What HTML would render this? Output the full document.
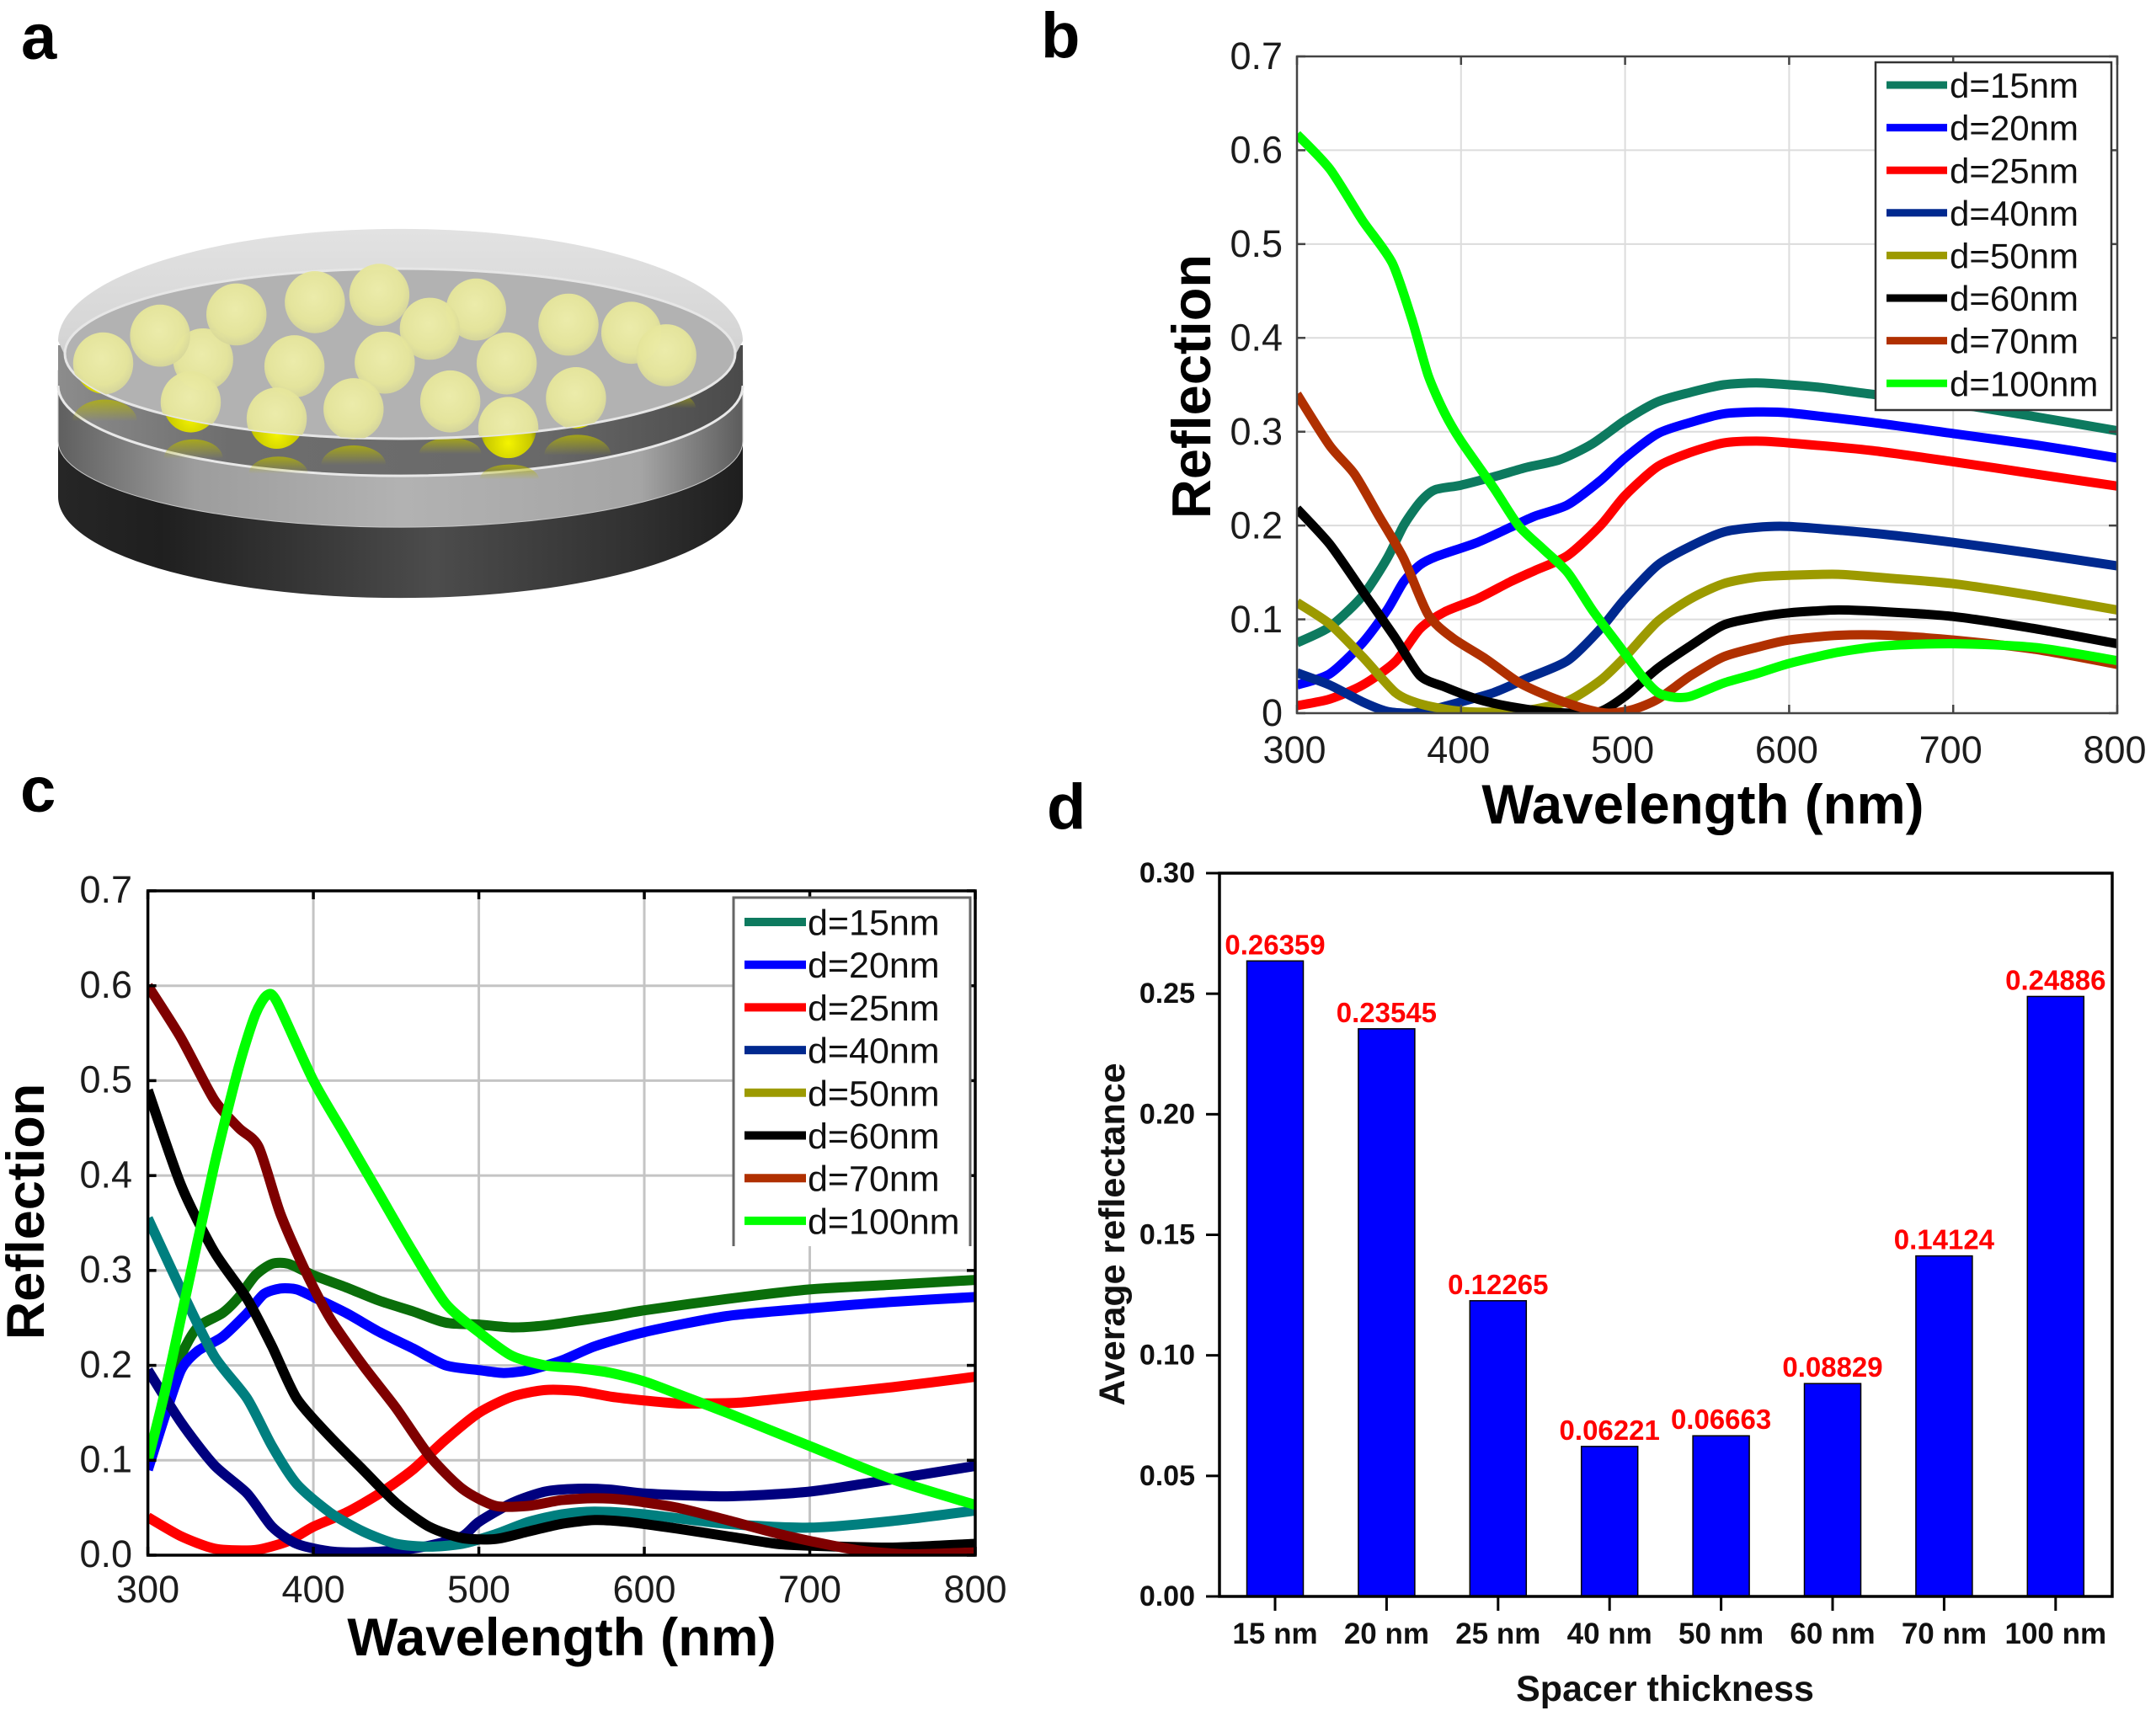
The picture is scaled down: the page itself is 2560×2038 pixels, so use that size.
<!DOCTYPE html>
<html lang="en">
<head>
<meta charset="utf-8">
<title>Reflection spectra figure</title>
<style>
html,body{margin:0;padding:0;background:#fff}
svg{display:block;font-family:"Liberation Sans",sans-serif}
</style>
</head>
<body>
<svg id="fig" xmlns="http://www.w3.org/2000/svg" width="2560" height="2038" viewBox="0 0 2560 2038">
<defs>
<linearGradient id="gDark" x1="0" x2="1" y1="0" y2="0"><stop offset="0" stop-color="#262626"/><stop offset=".15" stop-color="#1f1f1f"/><stop offset=".55" stop-color="#4c4c4c"/><stop offset=".85" stop-color="#303030"/><stop offset="1" stop-color="#1e1e1e"/></linearGradient>
<linearGradient id="gMid" x1="0" x2="1" y1="0" y2="0"><stop offset="0" stop-color="#5f5f5f"/><stop offset=".2" stop-color="#9d9d9d"/><stop offset=".5" stop-color="#b2b2b2"/><stop offset=".85" stop-color="#a5a5a5"/><stop offset="1" stop-color="#5c5c5c"/></linearGradient>
<linearGradient id="gBand" x1="0" x2="1" y1="0" y2="0"><stop offset="0" stop-color="#8c8c8c"/><stop offset=".25" stop-color="#6e6e6e"/><stop offset=".7" stop-color="#696969"/><stop offset="1" stop-color="#4a4a4a"/></linearGradient>
<linearGradient id="gRim" x1="0" x2="0" y1="0" y2="1"><stop offset="0" stop-color="#e2e2e2"/><stop offset=".5" stop-color="#d6d6d6"/><stop offset="1" stop-color="#bcbcbc"/></linearGradient>
<radialGradient id="gBall" cx=".48" cy=".42" r=".6"><stop offset="0" stop-color="#eeeeaa"/><stop offset=".7" stop-color="#e6e69b"/><stop offset="1" stop-color="#d4d49a"/></radialGradient>
<radialGradient id="gGold" cx=".5" cy=".75" r=".55"><stop offset="0" stop-color="#f4f400"/><stop offset=".75" stop-color="#c8c800"/><stop offset="1" stop-color="#8a8a10"/></radialGradient>
<linearGradient id="gCap" x1="0" x2="0" y1="0" y2="1"><stop offset="0" stop-color="#b8b800" stop-opacity=".75"/><stop offset="1" stop-color="#b8b800" stop-opacity="0"/></linearGradient>
<clipPath id="clipB"><rect x="1540" y="67" width="974" height="780"/></clipPath>
<clipPath id="clipC"><rect x="175.6" y="1058" width="982.4" height="789"/></clipPath>
<clipPath id="clipBalls"><path d="M0 0H1568V866H1369A624 208 0 0 1 121 866H0Z"/></clipPath>
</defs>

<g id="panel-a">
<path d="M69 440V590A406 120 0 0 0 882 590V440Z" fill="url(#gDark)"/>
<path d="M69 440V524A406 102 0 0 0 882 524V440Z" fill="url(#gMid)" stroke="#c8c8c8" stroke-width="1"/>
<path d="M69 410V458A406 107 0 0 0 882 458V410Z" fill="url(#gBand)"/>
<path d="M69 458A406 107 0 0 0 882 458" fill="none" stroke="#e8e8e8" stroke-width="3"/>
<g id="ballCaps" transform="scale(.638,.485)"></g>
<g id="ballGold" transform="scale(.638,.485)"></g>
<path d="M69 405A406 133 0 0 1 882 405L874 420A398 101 0 0 1 76 420Z" fill="url(#gRim)"/>
<ellipse cx="475" cy="420" rx="398" ry="101" fill="#b2b2b2" stroke="#e6e6e6" stroke-width="3"/>
<g id="ballTop" transform="scale(.638,.485)"></g>
</g>

<g id="labels" font-weight="bold" font-size="76" fill="#000">
<text x="25" y="70">a</text>
<text x="1236" y="68">b</text>
<text x="24" y="964">c</text>
<text x="1243" y="984">d</text>
</g>
<g id="chartB"></g>
<g id="chartC"></g>
<g id="chartD"></g>
</svg>
<script>
// Chart b series: [wavelength, reflection]
const b15 = [[300,.075],[320,.092],[340,.125],[355,.165],[365,.2],[375,.225],[384,.238],[400,.243],[420,.252],[440,.262],[460,.27],[480,.287],[500,.312],[520,.332],[540,.342],[560,.35],[580,.352],[600,.35],[620,.347],[650,.34],[700,.33],[750,.316],[800,.301]];
const b20 = [[300,.03],[320,.042],[340,.075],[355,.11],[365,.14],[375,.158],[385,.167],[410,.182],[430,.198],[445,.21],[465,.222],[485,.248],[500,.272],[520,.298],[540,.31],[560,.319],[580,.321],[600,.32],[650,.31],[700,.298],[750,.286],[800,.272]];
const b25 = [[300,.008],[320,.015],[340,.03],[360,.055],[375,.09],[390,.108],[410,.122],[430,.14],[445,.152],[465,.168],[485,.2],[500,.232],[520,.263],[540,.278],[560,.288],[580,.29],[600,.288],[650,.28],[700,.268],[750,.255],[800,.242]];
const b40 = [[300,.043],[320,.03],[340,.012],[355,.002],[370,.0],[385,.005],[400,.012],[420,.022],[440,.037],[465,.056],[485,.09],[500,.122],[520,.158],[540,.178],[560,.193],[580,.198],[600,.199],[650,.192],[700,.182],[750,.17],[800,.157]];
const b50 = [[300,.118],[320,.095],[340,.06],[360,.022],[375,.01],[395,.003],[415,.001],[440,.003],[465,.013],[485,.035],[500,.06],[520,.098],[540,.122],[560,.138],[580,.145],[600,.147],[630,.148],[660,.144],[700,.138],[750,.125],[800,.11]];
const b60 = [[300,.218],[320,.18],[340,.13],[360,.08],[375,.04],[390,.028],[410,.015],[430,.007],[450,.002],[470,.0],[485,.002],[500,.018],[520,.048],[540,.072],[560,.094],[580,.102],[600,.107],[630,.11],[660,.108],[700,.103],[750,.09],[800,.074]];
const b70 = [[300,.34],[320,.285],[335,.255],[350,.21],[365,.165],[380,.105],[395,.08],[415,.058],[435,.033],[455,.017],[475,.005],[490,.0],[505,.004],[520,.015],[540,.04],[560,.06],[580,.07],[600,.078],[630,.083],[660,.083],[700,.078],[750,.068],[800,.052]];
const b100 = [[300,.617],[320,.58],[340,.525],[358,.48],[370,.42],[380,.36],[390,.32],[400,.29],[420,.24],[435,.2],[450,.175],[465,.15],[480,.11],[495,.075],[510,.04],[520,.022],[530,.017],[540,.018],[560,.032],[580,.042],[600,.053],[630,.065],[660,.072],[700,.074],[750,.07],[800,.056]];

// Chart c series: [wavelength, reflection]
const c15 = [[300,.1],[310,.16],[320,.21],[330,.24],[345,.255],[355,.272],[365,.295],[375,.307],[385,.307],[400,.295],[420,.282],[440,.268],[460,.257],[480,.245],[500,.243],[520,.24],[540,.242],[560,.247],[580,.252],[600,.258],[650,.27],[700,.28],[750,.285],[800,.29]];
const c20 = [[300,.09],[310,.145],[320,.195],[330,.215],[345,.23],[360,.255],[370,.275],[380,.281],[390,.28],[400,.272],[420,.255],[440,.235],[460,.218],[480,.2],[500,.195],[515,.192],[530,.195],[550,.205],[570,.22],[600,.235],[650,.252],[700,.26],[750,.267],[800,.272]];
const c25 = [[300,.04],[320,.02],[340,.007],[360,.005],[370,.007],[385,.015],[400,.03],[420,.045],[440,.065],[460,.09],[480,.122],[500,.15],[520,.167],[540,.174],[560,.173],[580,.167],[600,.163],[620,.16],[640,.16],[660,.161],[700,.168],[750,.177],[800,.188]];
const c40 = [[300,.195],[320,.14],[340,.095],[360,.065],[375,.03],[390,.012],[410,.004],[430,.003],[450,.005],[470,.01],[490,.02],[500,.035],[520,.055],[540,.067],[560,.07],[580,.069],[600,.065],[650,.062],[700,.067],[750,.08],[800,.094]];
const c50 = [[300,.355],[320,.28],[340,.21],[360,.165],[375,.115],[390,.075],[410,.045],[430,.025],[450,.012],[470,.009],[490,.012],[510,.022],[530,.035],[550,.043],[570,.046],[600,.043],[650,.033],[700,.029],[750,.036],[800,.047]];
const c60 = [[300,.49],[320,.39],[340,.32],[360,.27],[375,.22],[390,.165],[410,.125],[430,.09],[450,.055],[470,.03],[490,.018],[510,.017],[530,.025],[550,.033],[570,.037],[590,.035],[620,.028],[650,.02],[680,.012],[700,.01],[750,.008],[800,.012]];
const c70 = [[300,.6],[320,.545],[340,.48],[355,.45],[367,.43],[380,.36],[395,.3],[410,.25],[430,.2],[450,.155],[470,.105],[490,.07],[510,.052],[530,.052],[550,.058],[570,.06],[590,.058],[620,.05],[650,.037],[680,.023],[700,.015],[730,.005],[760,.001],[800,.003]];
const c100 = [[300,.1],[310,.17],[320,.25],[340,.41],[355,.515],[365,.57],[372,.59],[378,.583],[400,.5],[420,.44],[440,.38],[460,.32],[480,.265],[500,.235],[520,.21],[540,.2],[560,.197],[580,.192],[600,.183],[620,.17],[650,.15],[700,.115],[750,.08],[800,.053]];

const legendNames = ['d=15nm','d=20nm','d=25nm','d=40nm','d=50nm','d=60nm','d=70nm','d=100nm'];
const xTicks = [300,400,500,600,700,800];
const yTicksB = ['0','0.1','0.2','0.3','0.4','0.5','0.6','0.7'];
const yTicksC = ['0.0','0.1','0.2','0.3','0.4','0.5','0.6','0.7'];

// Chart d data
const barCategories = ['15 nm','20 nm','25 nm','40 nm','50 nm','60 nm','70 nm','100 nm'];
const barValues = [0.26359,0.23545,0.12265,0.06221,0.06663,0.08829,0.14124,0.24886];
const yTicksD = ['0.00','0.05','0.10','0.15','0.20','0.25','0.30'];

const NS = 'http://www.w3.org/2000/svg';
function mk(parent, tag, attrs, text) {
  const el = document.createElementNS(NS, tag);
  for (const k in attrs) el.setAttribute(k, attrs[k]);
  if (text !== undefined) el.textContent = text;
  parent.appendChild(el);
  return el;
}
function smooth(pts) {
  let d = 'M' + pts[0][0].toFixed(1) + ' ' + pts[0][1].toFixed(1);
  for (let i = 0; i < pts.length - 1; i++) {
    const p0 = pts[i-1] || pts[i], p1 = pts[i], p2 = pts[i+1], p3 = pts[i+2] || p2;
    const c1x = p1[0] + (p2[0]-p0[0])/8, c1y = p1[1] + (p2[1]-p0[1])/8;
    const c2x = p2[0] - (p3[0]-p1[0])/8, c2y = p2[1] - (p3[1]-p1[1])/8;
    d += 'C' + c1x.toFixed(1) + ' ' + c1y.toFixed(1) + ' ' + c2x.toFixed(1) + ' ' + c2y.toFixed(1) + ' ' + p2[0].toFixed(1) + ' ' + p2[1].toFixed(1);
  }
  return d;
}

function lineChart(o) {
  const g = document.getElementById(o.id);
  const X = v => o.x0 + (v - 300) / 500 * (o.x1 - o.x0);
  const Y = v => o.y0 - v / 0.7 * (o.y0 - o.y1);
  // grid
  xTicks.forEach(t => {
    if (t === 300 || t === 800) return;
    const gl = mk(g, 'line', {x1:X(t), x2:X(t), y1:o.y0, y2:o.y1, stroke:o.grid, 'stroke-width':o.gridW});
    
    
  });
  o.yTicks.forEach((t, i) => {
    if (i === 0 || i === 7) return;
    const gl = mk(g, 'line', {x1:o.x0, x2:o.x1, y1:Y(i/10), y2:Y(i/10), stroke:o.grid, 'stroke-width':o.gridW});
    
    
  });
  // series
  const sg = mk(g, 'g', {'clip-path':'url(#' + o.clip + ')'});
  o.series.forEach((s, i) => {
    const p = mk(sg, 'path', {d:smooth(s.map(q => [X(q[0]), Y(q[1])])), fill:'none', stroke:o.colors[i], 'stroke-width':o.lw, 'stroke-linejoin':'round', 'stroke-linecap':'butt'});
    
    
  });
  // frame + inner ticks
  const fr = mk(g, 'rect', {x:o.x0, y:o.y1, width:o.x1-o.x0, height:o.y0-o.y1, fill:'none', stroke:o.axis, 'stroke-width':o.axisW});
  
  
  xTicks.forEach(t => {
    const a = mk(g, 'line', {x1:X(t), x2:X(t), y1:o.y1, y2:o.y1+10, stroke:o.axis, 'stroke-width':o.axisW});
    
    
    const b = mk(g, 'line', {x1:X(t), x2:X(t), y1:o.y0, y2:o.y0-10, stroke:o.axis, 'stroke-width':o.axisW});
    
    
    const lbl = mk(g, 'text', {x:X(t)+o.xLabelDx, y:o.xLabelY, 'text-anchor':'middle', 'font-size':o.fs, fill:'#1c1c1c'}, t);
    
    
  });
  o.yTicks.forEach((t, i) => {
    const a = mk(g, 'line', {x1:o.x0, x2:o.x0+10, y1:Y(i/10), y2:Y(i/10), stroke:o.axis, 'stroke-width':o.axisW});
    
    
    const r = mk(g, 'line', {x1:o.x1, x2:o.x1-10, y1:Y(i/10), y2:Y(i/10), stroke:o.axis, 'stroke-width':o.axisW});
    
    
    const lbl = mk(g, 'text', {x:o.yLabelX, y:Y(i/10)+o.fs*.36-o.yLabelUp, 'text-anchor':'end', 'font-size':o.fs, fill:'#1c1c1c'}, t);
    
    
  });
  // titles
  const xt = mk(g, 'text', {x:o.xTitle[0], y:o.xTitle[1], 'text-anchor':'middle', 'font-size':o.titleFsX, 'font-weight':'bold', fill:'#000'}, 'Wavelength (nm)');
  
  
  const yt = mk(g, 'text', {transform:'translate(' + o.yTitle[0] + ',' + o.yTitle[1] + ') rotate(-90)', 'text-anchor':'middle', 'font-size':o.titleFsY, 'font-weight':'bold', fill:'#000'}, 'Reflection');
  
  
  // legend
  const L = mk(g, 'g', {});
  
  
  const lb = o.legend;
  const box = mk(L, 'rect', {x:lb.x, y:lb.y, width:lb.w, height:lb.h, fill:'#fff', stroke:lb.frame ? '#333' : 'none', 'stroke-width':2.5});
  
  
  if (!lb.frame) {
    const fp = mk(L, 'path', {d:'M'+lb.x+' '+(lb.y+lb.h)+'V'+lb.y+'H'+(lb.x+lb.w)+'V'+(lb.y+lb.h), fill:'none', stroke:'#666', 'stroke-width':3});
    
    
  }
  legendNames.forEach((n, i) => {
    const yy = lb.first + i * lb.step;
    const ln = mk(L, 'line', {x1:lb.lx0, x2:lb.lx1, y1:yy, y2:yy, stroke:o.legendColors[i], 'stroke-width':o.lw-2});
    
    
    const t = mk(L, 'text', {x:lb.tx, y:yy+lb.fs*.36, 'font-size':lb.fs, fill:'#111'}, n);
    
    
  });
}

const legendColorsShared = ['#0d7a5f','#0000ff','#ff0000','#00298f','#9c9a00','#000000','#b03000','#00ff00'];

lineChart({
  id:'chartB', clip:'clipB', x0:1540, x1:2514, y0:847, y1:67, grid:'#dcdcdc', gridW:2, axis:'#444', axisW:2.5, lw:11,
  fs:45, titleFsX:65.5, titleFsY:65, yTicks:yTicksB, yLabelX:1523, yLabelUp:1, xLabelY:906, xLabelDx:-3,
  xTitle:[2022,978], yTitle:[1437,459],
  series:[b15,b20,b25,b40,b50,b60,b70,b100],
  colors:legendColorsShared, legendColors:legendColorsShared,
  legend:{x:2227,y:74,w:280,h:413,frame:true,first:101,step:50.6,lx0:2240,lx1:2312,tx:2315,fs:42}
});

lineChart({
  id:'chartC', clip:'clipC', x0:175.6, x1:1158, y0:1847, y1:1058, grid:'#c4c4c4', gridW:3, axis:'#000', axisW:3.5, lw:12,
  fs:45, titleFsX:63.5, titleFsY:63, yTicks:yTicksC, yLabelX:157, yLabelUp:2, xLabelY:1903, xLabelDx:0,
  xTitle:[667,1966], yTitle:[52,1439],
  series:[c15,c20,c25,c40,c50,c60,c70,c100],
  colors:['#0a6e0a','#0000ff','#ff0000','#00007f','#007f7f','#000000','#7f0000','#00ff00'],
  legendColors:legendColorsShared,
  legend:{x:871,y:1066,w:281,h:414,frame:false,first:1095,step:50.7,lx0:884,lx1:957,tx:959,fs:43}
});

// Bar chart d
(function(){
  const g = document.getElementById('chartD');
  const x0 = 1448, x1 = 2508, y0 = 1896, y1 = 1037;
  const Y = v => y0 - v / 0.30 * (y0 - y1);
  const BX = i => 1514 + i * 132.4;
  const bw = 67;
  barValues.forEach((v, i) => {
    const r = mk(g, 'rect', {x:BX(i)-bw/2, y:Y(v), width:bw, height:y0-Y(v), fill:'#0000ff', stroke:'#000', 'stroke-width':1.5});
    
    
    const vl = mk(g, 'text', {x:BX(i), y:Y(v)-8, 'text-anchor':'middle', 'font-size':33, 'font-weight':'bold', fill:'#ff0000'}, v.toFixed(5));
    
    
    const tk = mk(g, 'line', {x1:BX(i), x2:BX(i), y1:y0, y2:y0+17, stroke:'#000', 'stroke-width':3});
    
    
    const cl = mk(g, 'text', {x:BX(i), y:1952, 'text-anchor':'middle', 'font-size':35, 'font-weight':'bold', fill:'#111'}, barCategories[i]);
    
    
  });
  const fr = mk(g, 'rect', {x:x0, y:y1, width:x1-x0, height:y0-y1, fill:'none', stroke:'#000', 'stroke-width':3.5});
  
  
  yTicksD.forEach((t, i) => {
    const yy = Y(i * 0.05);
    const tk = mk(g, 'line', {x1:x0-16, x2:x0, y1:yy, y2:yy, stroke:'#000', 'stroke-width':3});
    
    
    const l = mk(g, 'text', {x:1419, y:yy+11, 'text-anchor':'end', 'font-size':34, 'font-weight':'bold', fill:'#111'}, t);
    
    
  });
  const xt = mk(g, 'text', {x:1977, y:2020, 'text-anchor':'middle', 'font-size':43, 'font-weight':'bold', fill:'#111'}, 'Spacer thickness');
  
  
  const yt = mk(g, 'text', {transform:'translate(1335,1466) rotate(-90)', 'text-anchor':'middle', 'font-size':43, 'font-weight':'bold', fill:'#111'}, 'Average reflectance');
  
  
})();

// Panel a: particles (illustration coordinates)
const ballCenters = [[192,890],[378,880],[298,822],[440,770],[586,740],[706,722],[886,758],[800,805],[1058,795],[1175,815],[1240,870],[548,897],[716,888],[943,890],[355,985],[515,1025],[658,1002],[838,983],[1072,975],[946,1048]];
const goldBases = [[192,890],[355,985],[515,1025],[946,1048],[1072,975],[658,1002]];
const capCenters = [[195,1000,60,38],[360,1095,55,34],[518,1135,55,30],[658,1110,60,34],[838,1088,58,28],[1075,1085,62,36],[948,1152,55,26],[1240,975,55,30]];
(function(){
  const caps = document.getElementById('ballCaps');
  capCenters.forEach(c => {
    const e = mk(caps, 'path', {d:'M'+(c[0]-c[2])+' '+(c[1]+c[3]/1.2)+'A'+c[2]+' '+c[3]*1.4+' 0 0 1 '+(c[0]+c[2])+' '+(c[1]+c[3]/1.2)+'Z', fill:'url(#gCap)'});
    
    
  });
  const gold = document.getElementById('ballGold');
  goldBases.forEach(c => {
    const e = mk(gold, 'ellipse', {cx:c[0], cy:c[1], rx:52, ry:74, fill:'url(#gGold)'});
    
    
  });
  const top = document.getElementById('ballTop');
  top.setAttribute('clip-path', 'url(#clipBalls)');
  ballCenters.forEach(c => {
    const e = mk(top, 'ellipse', {cx:c[0], cy:c[1], rx:56, ry:76, fill:'url(#gBall)', opacity:.96});
    
    
  });
})();
</script>
</body>
</html>
